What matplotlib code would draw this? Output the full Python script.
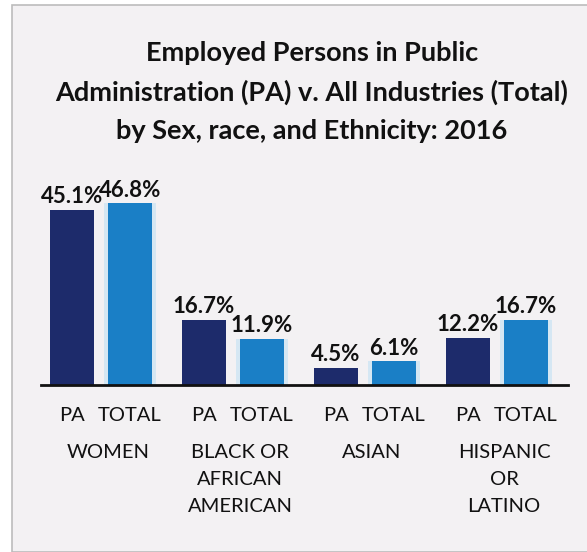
import matplotlib.pyplot as plt
from matplotlib.patches import Rectangle

# employment shares, 2016 (percent)
groups = ['WOMEN', 'BLACK OR\nAFRICAN\nAMERICAN', 'ASIAN', 'HISPANIC\nOR\nLATINO']
pa_share = [45.1, 16.7, 4.5, 12.2]
total_share = [46.8, 11.9, 6.1, 16.7]
bar_labels = ['PA', 'TOTAL']

W, H = 587, 552
fig = plt.figure(figsize=(W / 100, H / 100), dpi=100)
fig.patch.set_facecolor('white')

# panel background with a thin grey frame
fig.patches.append(Rectangle((12 / W, 0), 1, 1 - 5 / H, transform=fig.transFigure,
                             facecolor='#f3f1f3', edgecolor='#bcbcbc', lw=1.2, zorder=-5))

fig.text(312 / W, 1 - 92 / H,
         'Employed Persons in Public\nAdministration (PA) v. All Industries (Total)\nby Sex, race, and Ethnicity: 2016',
         ha='center', va='center', ma='center', fontsize=19.5, fontweight='bold',
         family='Lato', linespacing=1.68, color='#111111')

# axes mapped so the baseline sits at y=385 px
ymax = 50
px_per_unit = 3.88
ax = fig.add_axes([41 / W, (H - 385) / H, 527 / W, ymax * px_per_unit / H])
ax.set_facecolor('none')
ax.set_xlim(-0.455, 3.538)
ax.set_ylim(0, ymax)

off = 0.22
width = 0.33
pa_color = '#1d2b6b'
total_color = '#1a7fc6'

xs = range(len(groups))
pa_x = [i - off for i in xs]
tot_x = [i + off for i in xs]
ax.bar(pa_x, pa_share, width=width, color=pa_color, zorder=2)
ax.bar(tot_x, total_share, width=width, color=total_color, zorder=2)
# soft halo around the total bars
ax.bar(tot_x, total_share, width=width + 0.06, color='#9fd6f5', alpha=0.35, zorder=1)

for x, v in list(zip(pa_x, pa_share)) + list(zip(tot_x, total_share)):
    ax.annotate(f'{v:.1f}%', (x, v), xytext=(0, 2), textcoords='offset points',
                ha='center', va='bottom', fontsize=16, fontweight='bold',
                family='Lato', color='#111111')

for s in ['top', 'right', 'left']:
    ax.spines[s].set_visible(False)
ax.spines['bottom'].set_color('#111111')
ax.spines['bottom'].set_linewidth(2)
ax.set_yticks([])
ax.set_xticks([])

for i in xs:
    for dx, lab in zip([-off, off], bar_labels):
        ax.annotate(lab, (i + dx, 0), xycoords='data', xytext=(0, -22),
                    textcoords='offset points', ha='center', va='center',
                    fontsize=14.5, family='Lato', color='#111111')
    ax.annotate(groups[i], (i, 0), xycoords='data', xytext=(5, -42.5),
                textcoords='offset points', ha='center', va='top', ma='center',
                fontsize=14.5, family='Lato', color='#111111', linespacing=1.72)

fig.savefig('out.png', dpi=100)
